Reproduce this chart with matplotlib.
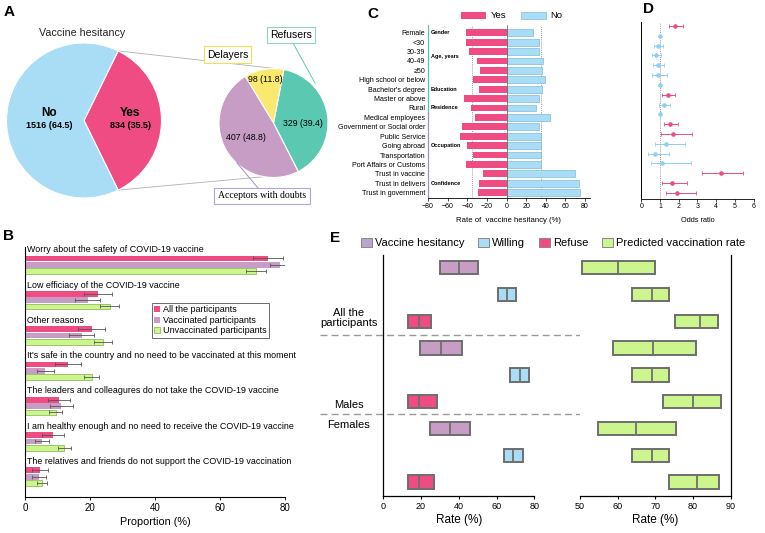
import numpy as np
import matplotlib
matplotlib.use('Agg')
import matplotlib.pyplot as plt
from matplotlib.patches import Wedge, Patch
from matplotlib.transforms import blended_transform_factory

plt.rcParams['font.family'] = ['Liberation Sans', 'DejaVu Sans']

W, H = 765, 533

# ---- A: pie of hesitancy and breakdown of the "Yes" group
hes_labels = ['No', 'Yes']
hes_counts = [1516, 834]
hes_pct = [64.5, 35.5]
sub_labels = ['Refusers', 'Delayers', 'Acceptors with doubts']
sub_counts = [329, 98, 407]
sub_pct = [39.4, 11.8, 48.8]

# ---- B: reasons for hesitancy
reasons = ['Worry about the safety of COVID-19 vaccine',
           'Low efficiacy of the COVID-19 vaccine',
           'Other reasons',
           "It's safe in the country and no need to be vaccinated at this moment",
           'The leaders and colleagures do not take the COVID-19 vaccine',
           'I am healthy enough and no need to receive the COVID-19 vaccine',
           'The relatives and friends do not support the COVID-19 vaccination']
b_groups = ['All the participants', 'Vaccinated participants', 'Unvaccinated participants']
b_all = [74.8, 22.6, 20.5, 13.2, 10.4, 8.6, 4.6]
b_all_err = [4.5, 4.3, 4.2, 4.0, 3.3, 3.5, 2.5]
b_vac = [78.4, 19.3, 17.4, 6.3, 11.2, 5.3, 4.2]
b_vac_err = [3.0, 3.8, 3.8, 2.5, 3.5, 2.2, 2.2]
b_unvac = [71.1, 26.0, 23.9, 20.5, 9.5, 12.1, 5.3]
b_unvac_err = [3.0, 3.0, 2.8, 2.3, 2.0, 2.0, 1.5]

# ---- C: rate of hesitancy by characteristics
c_cats = ['Female', '<30', '30-39', '40-49', '\u226550', 'High school or below',
          "Bachelor's degree", 'Master or above', 'Rural', 'Medical employees',
          'Government or Social order', 'Public Service', 'Going abroad',
          'Transportation', 'Port Affairs or Customs', 'Trust in vaccine',
          'Trust in delivers', 'Trust in government']
c_yes = [40.9, 41.3, 38.3, 30.4, 26.7, 34.0, 27.7, 42.9, 36.6, 32.3,
         44.9, 47.2, 40.3, 34.3, 41.6, 24.1, 28.1, 28.7]
c_no = [27.4, 33.3, 33.3, 37.3, 36.6, 39.3, 36.0, 33.3, 30.4, 43.9,
        33.3, 34.7, 35.3, 35.3, 35.6, 70.0, 73.3, 74.6]
c_overall = 35.5
c_groups = ['Gender', 'Age, years', 'Education', 'Residence', 'Occupation', 'Confidence']
c_group_rows = [0, 2.5, 6, 8, 12, 16]

# ---- D: odds ratios
d_or = [1.82, 1.00, 0.87, 0.78, 0.87, 0.91, 1.00, 1.41, 1.19, 1.00,
        1.51, 1.71, 1.32, 0.71, 1.12, 4.24, 1.62, 1.92]
d_lo = [1.50, 1.00, 0.68, 0.59, 0.62, 0.59, 1.00, 1.12, 0.94, 1.00,
        1.19, 1.07, 0.73, 0.36, 0.50, 3.26, 1.10, 1.30]
d_hi = [2.23, 1.00, 1.14, 1.03, 1.21, 1.39, 1.00, 1.78, 1.55, 1.00,
        1.98, 2.69, 2.35, 1.48, 2.65, 5.41, 2.42, 2.90]

# ---- E: rates and predicted vaccination rate
e_series = ['Vaccine hesitancy', 'Willing', 'Refuse', 'Predicted vaccination rate']
e_groups = ['All the\nparticipants', 'Males', 'Females']
e_lo = [30.2, 60.6, 13.2, 19.2, 66.9, 12.9, 24.9, 63.8, 12.9]
e_mid = [40.3, 65.5, 18.7, 30.7, 72.2, 19.1, 35.5, 68.7, 18.7]
e_hi = [50.0, 70.1, 25.1, 41.7, 77.4, 28.4, 45.7, 73.8, 26.7]
p_lo = [50.4, 63.9, 75.3, 58.7, 63.9, 71.9, 54.7, 63.9, 73.6]
p_mid = [60.1, 69.0, 81.8, 69.5, 69.0, 80.1, 64.9, 69.0, 81.1]
p_hi = [69.9, 73.7, 86.7, 80.7, 73.7, 87.3, 75.4, 73.7, 86.9]

pink = '#ee4c82'
blue = '#a9dcf5'
purple = '#c79dc6'
green = '#ccf58e'
yellow = '#fbe96f'
teal = '#5bc8b2'
gray = '#6e6e6e'

fig = plt.figure(figsize=(W / 100, H / 100), dpi=100)


def px_axes(x0, y0, x1, y1):
    return fig.add_axes([x0 / W, 1 - y1 / H, (x1 - x0) / W, (y1 - y0) / H])


def panel_label(s, x, y):
    fig.text(x / W, 1 - y / H, s, fontsize=11, fontweight='bold', ha='center', va='center')


# ================= A
axA = px_axes(0, 0, 345, 225)
axA.set_xlim(0, 345)
axA.set_ylim(0, 225)
axA.axis('off')
Y = lambda y: 225 - y

c1, r1 = (84, Y(120.5)), 77.5
yes_ang = 360 * hes_counts[1] / sum(hes_counts)
axA.add_patch(Wedge(c1, r1, -yes_ang / 2, yes_ang / 2, fc=pink, ec='white', lw=0.8, zorder=2))
axA.add_patch(Wedge(c1, r1, yes_ang / 2, 360 - yes_ang / 2, fc=blue, ec='white', lw=0.8, zorder=2))

c2, r2 = (273.5, Y(123)), 54.5
tot = sum(sub_counts)
angs = [360 * c / tot for c in sub_counts]
start = 79
axA.add_patch(Wedge(c2, r2, start - angs[0], start, fc=teal, ec='white', lw=0.8, zorder=2))
axA.add_patch(Wedge(c2, r2, start, start + angs[1], fc=yellow, ec='white', lw=0.8, zorder=2))
axA.add_patch(Wedge(c2, r2, start + angs[1], start + angs[1] + angs[2], fc=purple, ec='white', lw=0.8, zorder=2))

# connectors
for a1, a2 in [(yes_ang / 2, start), (-yes_ang / 2, -100)]:
    p1 = (c1[0] + r1 * np.cos(np.radians(a1)), c1[1] + r1 * np.sin(np.radians(a1)))
    p2 = (c2[0] + r2 * np.cos(np.radians(a2)), c2[1] + r2 * np.sin(np.radians(a2)))
    axA.plot([p1[0], p2[0]], [p1[1], p2[1]], color='#b0b0b0', lw=0.6, zorder=1)

axA.text(82, Y(33), 'Vaccine hesitancy', fontsize=7.7, ha='center', va='center', color='#222')
axA.text(49, Y(113), hes_labels[0], fontsize=8.5, fontweight='bold', ha='center', va='center')
axA.text(49, Y(126), f'{hes_counts[0]} ({hes_pct[0]})', fontsize=6.5, fontweight='bold', ha='center', va='center')
axA.text(130, Y(113), hes_labels[1], fontsize=8.5, fontweight='bold', ha='center', va='center')
axA.text(130, Y(126), f'{hes_counts[1]} ({hes_pct[1]})', fontsize=6.5, fontweight='bold', ha='center', va='center')

axA.text(303, Y(123), f'{sub_counts[0]} ({sub_pct[0]})', fontsize=6.3, ha='center', va='center')
axA.text(265, Y(79), f'{sub_counts[1]} ({sub_pct[1]})', fontsize=6.3, ha='center', va='center')
axA.text(246, Y(137), f'{sub_counts[2]} ({sub_pct[2]})', fontsize=6.3, ha='center', va='center')

axA.text(291, Y(35), sub_labels[0], fontsize=7.5, ha='center', va='center',
         bbox=dict(boxstyle='square,pad=0.3', fc='white', ec='#8fd3c8', lw=0.8), zorder=4)
axA.text(227.5, Y(54.5), sub_labels[1], fontsize=7.5, ha='center', va='center',
         bbox=dict(boxstyle='square,pad=0.3', fc='white', ec='#f3e05a', lw=0.8), zorder=4)
axA.text(262, Y(196), sub_labels[2], fontsize=7, ha='center', va='center', family='Liberation Serif',
         bbox=dict(boxstyle='square,pad=0.4', fc='white', ec='#b2a6d6', lw=0.8), zorder=4)
axA.plot([293, 315], [Y(43), Y(83)], color=teal, lw=0.7, zorder=3)
axA.plot([258, 237], [Y(188), Y(163)], color='#9a8fc9', lw=0.7, zorder=3)

# ================= B
axB = px_axes(25, 247, 285, 497)
gap = 5.27
base = np.arange(len(reasons)) * gap
err_kw = dict(ecolor='#555555', elinewidth=0.6, capsize=1.2, capthick=0.6)
axB.barh(base + 1.4, b_all, height=0.85, color=pink, xerr=b_all_err, error_kw=err_kw, label=b_groups[0])
axB.barh(base + 2.35, b_vac, height=0.85, color=purple, xerr=b_vac_err, error_kw=err_kw, label=b_groups[1])
axB.barh(base + 3.3, b_unvac, height=0.85, color=green, edgecolor='#7fb04a', lw=0.5,
         xerr=b_unvac_err, error_kw=err_kw, label=b_groups[2])
for i, r in enumerate(reasons):
    axB.text(0.6, base[i] + 0.1, r, fontsize=6.4, va='center', ha='left')
axB.set_xlim(0, 80)
axB.set_ylim(37.0, -0.3)
axB.set_yticks([])
axB.set_xticks([0, 20, 40, 60, 80])
axB.tick_params(axis='x', labelsize=7, length=2.5, width=0.6, pad=2)
axB.spines[['top', 'right']].set_visible(False)
for s in ['left', 'bottom']:
    axB.spines[s].set_linewidth(0.8)
axB.set_xlabel('Proportion (%)', fontsize=7.8, labelpad=3)
leg = axB.legend(loc='upper left', bbox_to_anchor=(0.47, 0.795), fontsize=6.5, frameon=True,
                 fancybox=False, edgecolor='#444', handlelength=0.6, handleheight=0.7,
                 handletextpad=0.3, borderpad=0.3, labelspacing=0.15)
leg.get_frame().set_linewidth(0.7)

# ================= C
axC = px_axes(428, 25, 590, 198.3)
rows = np.arange(len(c_cats))
axC.barh(rows, [-v for v in c_yes], height=0.72, color=pink, label='Yes')
axC.barh(rows, c_no, height=0.72, color=blue, edgecolor='#6aaed6', lw=0.4, label='No')
axC.axvline(0, color='#555', lw=0.5)
for v in (-c_overall, c_overall):
    axC.axvline(v, color='#777', lw=0.6, ls=(0, (1, 1.5)), zorder=0)
axC.set_xlim(-80, 85)
axC.set_ylim(17.6, -0.82)
axC.set_yticks(rows)
axC.set_yticklabels(c_cats, fontsize=5.1)
axC.tick_params(axis='y', length=0, pad=2)
axC.set_xticks(np.arange(-80, 81, 20))
axC.tick_params(axis='x', labelsize=5, length=2, width=0.5, pad=1.5)
axC.spines[['top', 'right', 'left']].set_visible(False)
axC.spines['bottom'].set_linewidth(0.6)
axC.spines['bottom'].set_bounds(-80, 85)
trC = blended_transform_factory(axC.transAxes, axC.transData)
axC.plot([0, 0], [-0.82, 8.5], color='#55c3b3', lw=0.9, transform=trC, clip_on=False)
axC.plot([0, 0], [8.5, 17.6], color='#9a8fc9', lw=0.9, transform=trC, clip_on=False)
for g, r in zip(c_groups, c_group_rows):
    axC.text(0.018, r, g, fontsize=4, fontweight='bold', va='center', ha='left', transform=trC)
axC.set_xlabel('Rate of  vaccine hesitancy (%)', fontsize=5.6, labelpad=5)
fig.legend(*axC.get_legend_handles_labels(), loc='center', bbox_to_anchor=(512 / W, 1 - 16 / H),
           ncol=2, frameon=False, fontsize=6.8, handlelength=2.6, handleheight=0.8,
           handletextpad=0.5, columnspacing=1.6)

# ================= D
axD = px_axes(641.3, 21.7, 753.7, 198.5)
for i in range(len(d_or)):
    col = pink if d_lo[i] > 1 else '#8fd0ee'
    axD.errorbar(d_or[i], i, xerr=[[d_or[i] - d_lo[i]], [d_hi[i] - d_or[i]]], fmt='o', ms=2.3,
                 color=col, ecolor=col, elinewidth=0.7, capsize=1.3, capthick=0.6)
axD.axvline(1, color='#777', lw=0.6, ls=(0, (1, 1.5)), zorder=0)
axD.set_xlim(0, 6)
axD.set_ylim(17.57, -0.43)
axD.set_yticks([])
axD.set_xticks(range(7))
axD.tick_params(axis='x', labelsize=5, length=2, width=0.5, pad=1.5)
axD.spines[['top', 'right']].set_visible(False)
axD.spines['left'].set_linewidth(0.7)
axD.spines['bottom'].set_linewidth(0.6)
axD.set_xlabel('Odds ratio', fontsize=5.3, labelpad=5)

# ================= E
e_cols = [purple, blue, pink] * 3
erow = np.arange(len(e_lo))
axE1 = px_axes(383.3, 255, 534.3, 496)
axE2 = px_axes(580, 255, 730.7, 496)
for ax, lo, mid, hi, cols, xl in [(axE1, e_lo, e_mid, e_hi, e_cols, (0, 80)),
                                   (axE2, p_lo, p_mid, p_hi, [green] * 9, (50, 90))]:
    ax.barh(erow, np.array(hi) - np.array(lo), left=lo, height=0.5, color=cols,
            edgecolor=gray, lw=1.4)
    ax.vlines(mid, erow - 0.25, erow + 0.25, color=gray, lw=1.3)
    ax.set_xlim(*xl)
    ax.set_ylim(8.52, -0.47)
    ax.set_yticks([])
    ax.tick_params(axis='x', labelsize=6.5, length=2.5, width=0.8, pad=2)
    ax.spines['top'].set_visible(False)
    ax.set_xlabel('Rate (%)', fontsize=8.5, labelpad=2)
    for s in ax.spines.values():
        s.set_linewidth(0.9)
axE1.spines['right'].set_visible(False)
axE2.spines['left'].set_visible(False)
axE1.set_xticks([0, 20, 40, 60, 80])
axE2.set_xticks([50, 60, 70, 80, 90])
trE = blended_transform_factory(axE1.transAxes, axE1.transData)
for yy in (2.5, 5.45):
    axE1.plot([-0.42, 2.23], [yy, yy], color='#999', lw=1.0, ls=(0, (5, 3)),
              transform=trE, clip_on=False)
axE1.text(-0.23, 1.88, e_groups[0], fontsize=8, ha='center', va='center', transform=trE, linespacing=1.0)
axE1.text(-0.23, 5.12, e_groups[1], fontsize=8, ha='center', va='center', transform=trE)
axE1.text(-0.23, 5.87, e_groups[2], fontsize=8, ha='center', va='center', transform=trE)
e_handles = [Patch(fc=c, ec='#888', lw=0.7) for c in ['#b9a3cf', blue, pink, green]]
fig.legend(e_handles, e_series, loc='center', bbox_to_anchor=(553 / W, 1 - 243 / H), ncol=4,
           frameon=False, fontsize=8, handlelength=1.0, handleheight=0.9, handletextpad=0.3,
           columnspacing=1.2)

panel_label('A', 9, 11.5)
panel_label('B', 9, 235.5)
panel_label('C', 373, 14)
panel_label('D', 648, 9)
panel_label('E', 335, 238)

fig.savefig('out.png', dpi=100)
